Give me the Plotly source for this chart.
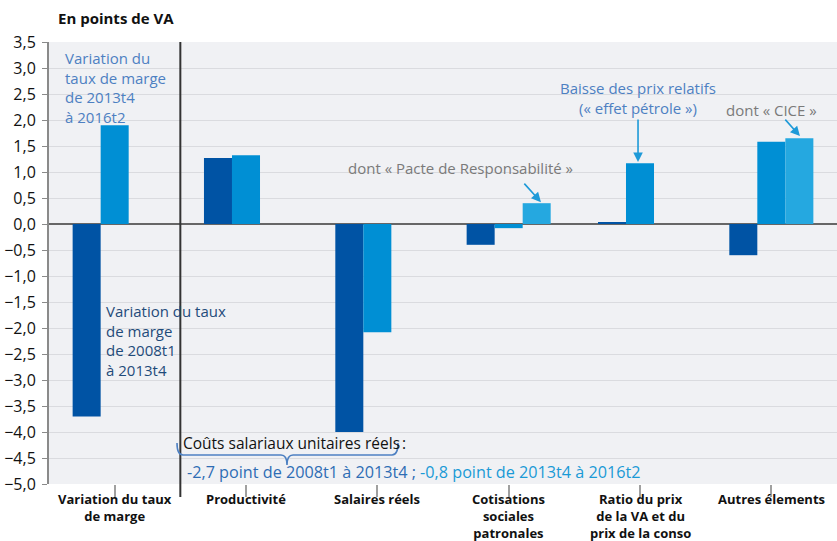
import plotly.graph_objects as go

categories = ["Variation du taux<br>de marge", "Productivité", "Salaires réels",
              "Cotisations<br>sociales<br>patronales",
              "Ratio du prix<br>de la VA et du<br>prix de la conso", "Autres élements"]
series_2008_2013 = [-3.7, 1.27, -4.0, -0.4, 0.02, -0.6]
series_2013_2016 = [1.9, 1.32, -2.08, -0.08, 1.17, 1.58]
series_dont = [None, None, None, 0.4, None, 1.65]

C_DARK = "#0053A4"
C_MED = "#008FD4"
C_LIGHT = "#25A8E0"
FONT = "Open Sans"

W, H = 837, 541
L, R, T, B = 49, 0, 42, 57
PW, PH = W - L - R, H - T - B


def px(x):
    return (x - L) / PW


def py(y):
    return (H - B - y) / PH


fig = go.Figure()
for vals, col in [(series_2008_2013, C_DARK), (series_2013_2016, C_MED), (series_dont, C_LIGHT)]:
    fig.add_trace(go.Bar(x=list(range(len(categories))), y=vals, marker_color=col,
                         marker_line_width=0, showlegend=False, hoverinfo="y"))

ann = []
# category labels
for i, lab in enumerate(categories):
    ann.append(dict(xref="x", yref="paper", x=i, y=py(489), xanchor="center", yanchor="top",
                    showarrow=False, text=lab, align="center", borderpad=0,
                    font=dict(family=FONT, size=13, color="#111", weight="bold")))
# title
ann.append(dict(xref="paper", yref="paper", x=px(56), y=py(18), xanchor="left", yanchor="middle",
                text="En points de VA", showarrow=False,
                font=dict(family=FONT, size=15, color="#111", weight="bold")))
# series labels
ann.append(dict(x=-0.39, y=3.43, xanchor="left", yanchor="top", align="left", showarrow=False,
                text="Variation du<br>taux de marge<br>de 2013t4<br>à 2016t2",
                font=dict(family=FONT, size=15, color="#4D80C2")))
ann.append(dict(x=-0.085, y=-1.45, xanchor="left", yanchor="top", align="left", showarrow=False,
                text="Variation du taux<br>de marge<br>de 2008t1<br>à 2013t4",
                font=dict(family=FONT, size=15, color="#1F4B7A")))
ann.append(dict(x=2.637, y=1.08, xanchor="center", yanchor="middle", showarrow=False,
                text="dont « Pacte de Responsabilité »",
                font=dict(family=FONT, size=15, color="#7A7A7A")))
ann.append(dict(x=3.985, y=2.43, xanchor="center", yanchor="middle", showarrow=False,
                text="Baisse des prix relatifs<br>(« effet pétrole »)",
                font=dict(family=FONT, size=15, color="#4D80C2")))
ann.append(dict(x=5.005, y=2.19, xanchor="center", yanchor="middle", showarrow=False,
                text="dont « CICE »",
                font=dict(family=FONT, size=15, color="#7A7A7A")))
# arrows
for hx, hy, ax, ay in [(3.246, 0.42, -18, -20), (3.985, 1.19, 0, -44), (5.218, 1.69, -16, -18)]:
    ann.append(dict(x=hx, y=hy, ax=ax, ay=ay, text="", showarrow=True, arrowhead=2,
                    arrowsize=1.2, arrowwidth=1.6, arrowcolor="#1E9AD8"))
# bracket texts
ann.append(dict(x=0.505, y=-4.21, xanchor="left", yanchor="middle", showarrow=False,
                text="Coûts salariaux unitaires réels",
                font=dict(family=FONT, size=15.5, color="#111")))
ann.append(dict(xref="paper", x=px(400), y=-4.21, xanchor="left", yanchor="middle", showarrow=False,
                text=":", font=dict(family=FONT, size=15.5, color="#111")))
ann.append(dict(x=0.535, y=-4.77, xanchor="left", yanchor="middle", showarrow=False,
                text="-2,7 point de 2008t1 à 2013t4 ; <span style='color:#1A9AD6'>-0,8 point de 2013t4 à 2016t2</span>",
                font=dict(family=FONT, size=16.2, color="#2E6DB4")))

brace = (f"M {px(177)},{py(443)} Q {px(177)},{py(455)} {px(183)},{py(455)} "
         f"L {px(281)},{py(455)} Q {px(287)},{py(455)} {px(287)},{py(465)} "
         f"Q {px(287)},{py(455)} {px(293)},{py(455)} "
         f"L {px(392)},{py(455)} Q {px(398)},{py(455)} {px(398)},{py(443)}")
shapes = [
    dict(type="line", xref="x", yref="paper", x0=0.5, x1=0.5, y0=py(497), y1=1,
         line=dict(color="#333333", width=2)),
    dict(type="path", xref="paper", yref="paper", path=brace,
         line=dict(color="#4D80C2", width=1.6)),
]

fig.update_layout(
    width=W, height=H, margin=dict(l=L, r=R, t=T, b=B),
    paper_bgcolor="white", plot_bgcolor="#F0F1F4",
    barmode="group", bargap=0.36, bargroupgap=0,
    separators=", ",
    annotations=ann, shapes=shapes,
    font=dict(family=FONT, size=15, color="#111"),
)
fig.update_xaxes(tickmode="array", tickvals=list(range(len(categories))),
                 ticktext=[""] * len(categories), automargin=False,
                 range=[-0.5, 5.5], showgrid=False, zeroline=False, showline=False,
                 tickson="boundaries", ticks="outside", ticklen=12, tickwidth=2, tickcolor="#A0A0A0")
fig.update_yaxes(range=[-5, 3.5], dtick=0.5, tick0=0, tickformat=".1f", automargin=False,
                 showgrid=True, gridcolor="#DADBDF", gridwidth=1,
                 zeroline=True, zerolinecolor="#666666", zerolinewidth=2,
                 showline=True, linecolor="#8A8A8A", linewidth=2,
                 ticks="outside", ticklen=5, tickwidth=1, tickcolor="#8A8A8A",
                 ticklabelstandoff=3,
                 tickfont=dict(family=FONT, size=16, color="#111"))

fig.write_html("out.html", config={"displayModeBar": False},
               post_script="document.body.style.margin='0';document.body.style.padding='0';")
